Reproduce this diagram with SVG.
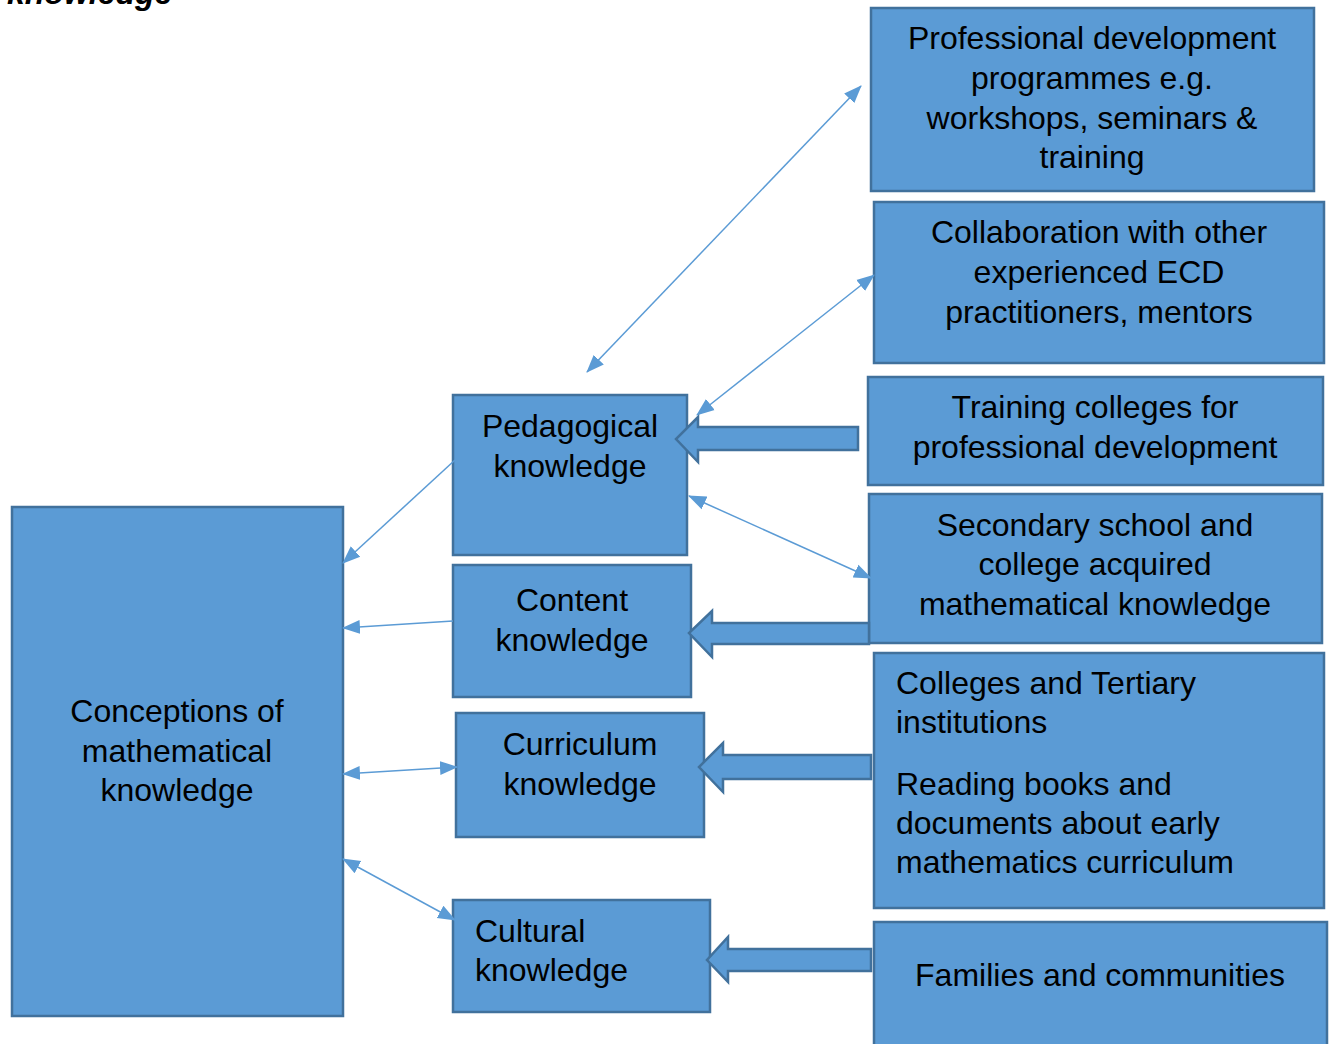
<svg xmlns="http://www.w3.org/2000/svg" width="1332" height="1044" viewBox="0 0 1332 1044">
<style>
.box{fill:#5B9BD5;stroke:#41719C;stroke-width:2.5}
.t{font-family:"Liberation Sans",Arial,sans-serif;font-size:32px;fill:#000}
.c{text-anchor:middle}
.ln{stroke:#5B9BD5;stroke-width:1.5;fill:none}
.blk{fill:#5B9BD5;stroke:#41719C;stroke-width:2.5;stroke-linejoin:miter}
</style>
<defs>
<marker id="ah" markerUnits="userSpaceOnUse" markerWidth="20" markerHeight="16" refX="17" refY="8" orient="auto-start-reverse">
<path d="M0,1 L18,8 L0,15 Z" fill="#5B9BD5"/>
</marker>
</defs>
<rect width="1332" height="1044" fill="#fff"/>
<text x="7" y="4" class="t" style="font-weight:bold;font-style:italic">knowledge</text>

<g id="conceptions"><rect class="box" x="12" y="507" width="331" height="509"/>
<text class="t c" x="177" y="722">Conceptions of</text><text class="t c" x="177" y="762">mathematical</text><text class="t c" x="177" y="801">knowledge</text></g>

<g id="pedagogical"><rect class="box" x="453" y="395" width="234" height="160"/>
<text class="t c" x="570" y="437">Pedagogical</text><text class="t c" x="570" y="477">knowledge</text></g>

<g id="content"><rect class="box" x="453" y="565" width="238" height="132"/>
<text class="t c" x="572" y="611">Content</text><text class="t c" x="572" y="651">knowledge</text></g>

<g id="curriculum"><rect class="box" x="456" y="713" width="248" height="124"/>
<text class="t c" x="580" y="755">Curriculum</text><text class="t c" x="580" y="795">knowledge</text></g>

<g id="cultural"><rect class="box" x="453" y="900" width="257" height="112"/>
<text class="t" x="475" y="942">Cultural</text><text class="t" x="475" y="981">knowledge</text></g>

<g id="professional"><rect class="box" x="871" y="8" width="443" height="183"/>
<text class="t c" x="1092" y="49">Professional development</text><text class="t c" x="1092" y="89">programmes e.g.</text><text class="t c" x="1092" y="129">workshops, seminars &amp;</text><text class="t c" x="1092" y="168">training</text></g>

<g id="collaboration"><rect class="box" x="874" y="202" width="450" height="161"/>
<text class="t c" x="1099" y="243">Collaboration with other</text><text class="t c" x="1099" y="283">experienced ECD</text><text class="t c" x="1099" y="323">practitioners, mentors</text></g>

<g id="training"><rect class="box" x="868" y="377" width="455" height="108"/>
<text class="t c" x="1095" y="418">Training colleges for</text><text class="t c" x="1095" y="458">professional development</text></g>

<g id="secondary"><rect class="box" x="869" y="494" width="453" height="149"/>
<text class="t c" x="1095" y="536">Secondary school and</text><text class="t c" x="1095" y="575">college acquired</text><text class="t c" x="1095" y="615">mathematical knowledge</text></g>

<g id="colleges"><rect class="box" x="874" y="653" width="450" height="255"/>
<text class="t" x="896" y="694">Colleges and Tertiary</text><text class="t" x="896" y="733">institutions</text>
<text class="t" x="896" y="795">Reading books and</text><text class="t" x="896" y="834">documents about early</text><text class="t" x="896" y="873">mathematics curriculum</text></g>

<g id="families"><rect class="box" x="874" y="922" width="453" height="130"/>
<text class="t c" x="1100" y="986">Families and communities</text></g>

<g id="connectors">
<line class="ln" x1="861" y1="86" x2="587" y2="372" marker-start="url(#ah)" marker-end="url(#ah)"/>
<line class="ln" x1="874" y1="275" x2="697" y2="415" marker-start="url(#ah)" marker-end="url(#ah)"/>
<line class="ln" x1="689" y1="496" x2="871" y2="578" marker-start="url(#ah)" marker-end="url(#ah)"/>
<line class="ln" x1="455" y1="460" x2="343" y2="563" marker-end="url(#ah)"/>
<line class="ln" x1="453" y1="621" x2="343" y2="628" marker-end="url(#ah)"/>
<line class="ln" x1="457" y1="767" x2="343" y2="774" marker-start="url(#ah)" marker-end="url(#ah)"/>
<line class="ln" x1="455" y1="920" x2="343" y2="859" marker-start="url(#ah)" marker-end="url(#ah)"/>
<path class="blk" d="M858,427 L698,427 L698,417 L676,439 L698,462 L698,450 L858,450 Z"/>
<path class="blk" d="M869,623 L712,623 L712,611 L689,633 L712,657 L712,644 L869,644 Z"/>
<path class="blk" d="M871,755 L723,755 L723,743 L699,767 L723,792 L723,779 L871,779 Z"/>
<path class="blk" d="M871,949 L728,949 L728,937 L707,960 L728,982 L728,971 L871,971 Z"/>
</g>
</svg>
